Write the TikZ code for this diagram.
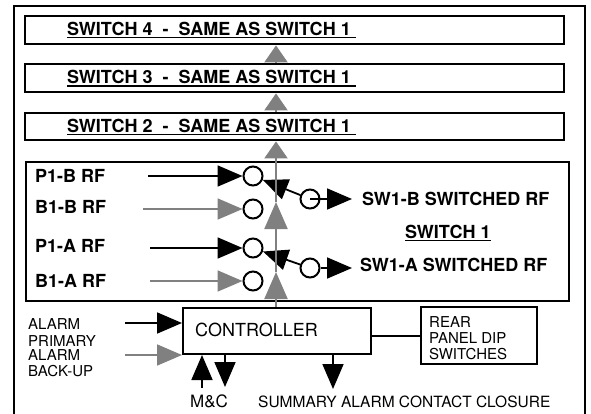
\documentclass[tikz,border=0pt]{standalone}
\usepackage{fontspec}
\setmainfont{TeX Gyre Heros}
\usetikzlibrary{arrows.meta}
\definecolor{feedgray}{RGB}{128,128,128}
\newcommand{\undr}[1]{\setbox0\hbox{#1}\rlap{\rule[-3pt]{\wd0}{1.4pt}}\box0}

\begin{document}
\begin{tikzpicture}
[x=1pt,y=-1pt,%
  every node/.style={inner sep=0pt},%
  box/.style={draw,line width=2.4pt},%
  sbox/.style={draw,line width=2pt},%
  lbl/.style={font=\fontsize{18}{20}\selectfont\bfseries,anchor=base west},%
  txt/.style={align=left,anchor=north west},%
  sw/.style={shape=circle,draw,line width=2pt,minimum size=19pt},%
  bighead/.style={-{Triangle[length=25pt,width=21pt]}},%
  blk/.style={bighead,line width=1.8pt},%
  gry/.style={bighead,line width=1.8pt,feedgray},%
  trunk/.style={feedgray,line width=2.2pt,-{Triangle[length=#1,width=23pt]}},%
  trunk/.default=24pt]
\useasboundingbox (0,0) rectangle (591,413);
\draw[box] (14,420) |- (585,6) -- (585,420);

\node[box,anchor=north west,minimum width=539pt,minimum height=28pt] (sw4) at (24,15) {};
\node[box,anchor=north west,minimum width=539pt,minimum height=28pt] (sw3) at (24,63) {};
\node[box,anchor=north west,minimum width=539pt,minimum height=27pt] (sw2) at (24,112) {};
\node[lbl] at (67,35) {\undr{SWITCH 4\ \ -\ \ SAME AS SWITCH 1\ }};
\node[lbl] at (67,83.5) {\undr{SWITCH 3\ \ -\ \ SAME AS SWITCH 1\ }};
\node[lbl] at (67,132) {\undr{SWITCH 2\ \ -\ \ SAME AS SWITCH 1\ }};

\node[sbox,anchor=north west,minimum width=543pt,minimum height=139pt] (sw1) at (25,161) {};
\node[sbox,anchor=north west,minimum width=188pt,minimum height=46pt] (ctrl) at (182,307) {};
\node[sbox,anchor=north west,minimum width=116pt,minimum height=57pt] (rear) at (420,306) {};

\node[lbl] at (35,182) {P1-B RF};
\node[lbl] at (35,213.5) {B1-B RF};
\node[lbl] at (35,252.5) {P1-A RF};
\node[lbl] at (35,287) {B1-A RF};
\node[lbl] at (362,205) {SW1-B SWITCHED RF};
\node[lbl] at (405,238) {\undr{SWITCH 1}};
\node[lbl] at (360,271) {SW1-A SWITCHED RF};

\node[sw] (cPB) at (253,176) {};
\node[sw] (cBB) at (253,209) {};
\node[sw] (cPA) at (253,248) {};
\node[sw] (cBA) at (253,281) {};
\node[sw] (outB) at (310,199) {};
\node[sw] (outA) at (310,268) {};

\coordinate (iPB) at (148,176);
\coordinate (iBB) at (143,209);
\coordinate (iPA) at (150,248);
\coordinate (iBA) at (150,281);
\coordinate (oB) at (352,199);
\coordinate (oA) at (352,268);
\draw[blk] (iPB) -- (cPB);
\draw[gry] (iBB) -- (cBB);
\draw[blk] (iPA) -- (cPA);
\draw[gry] (iBA) -- (cBA);
\draw[blk] (outB) -- (cPB);
\draw[blk] (outA) -- (cPA);
\draw[blk] (outB.center) -- (oB);
\draw[blk] (outA) -- (oA);

\coordinate (tA) at (276,272);
\coordinate (tB) at (276,202);
\draw[trunk=27pt] (ctrl.north -| tA) -- (tA);
\draw[trunk=27pt] (tA) -- (tB);
\draw[trunk=17pt] (tB) -- (sw2.south -| tB);
\draw[trunk=17pt] (sw2.north -| tB) -- (sw3.south -| tB);
\draw[trunk=17pt] (sw3.north -| tB) -- (sw4.south -| tB);

\node[font=\fontsize{18}{20}\selectfont,anchor=base west] at (195,336.5) {CONTROLLER};
\node[txt,font=\fontsize{15}{16}\selectfont] at (429,316) {REAR\\PANEL DIP\\SWITCHES};
\draw[line width=2pt] (rear.west) -- (rear.west -| ctrl.east);

\node[txt,font=\fontsize{15}{17}\selectfont] at (28,318) {ALARM\\PRIMARY};
\node[txt,font=\fontsize{15}{15.5}\selectfont] at (28,349.5) {ALARM\\BACK-UP};
\coordinate (aP) at (125,323);
\coordinate (aB) at (125,355);
\draw[blk] (aP) -- (aP -| ctrl.west);
\draw[gry] (aB) -- (aB -| ctrl.west);

\coordinate (mcUp) at (202,388);
\coordinate (mcDn) at (225,387);
\coordinate (sum) at (333,389);
\draw[blk] (mcUp) -- (mcUp |- ctrl.south);
\draw[blk] (ctrl.south -| mcDn) -- (mcDn);
\draw[blk] (ctrl.south -| sum) -- (sum);
\node[font=\fontsize{17}{18}\selectfont,anchor=base west] at (190,407) {M\&C};
\node[font=\fontsize{15.5}{17}\selectfont,anchor=base west] at (258,407) {SUMMARY ALARM CONTACT CLOSURE};
\end{tikzpicture}
\end{document}
